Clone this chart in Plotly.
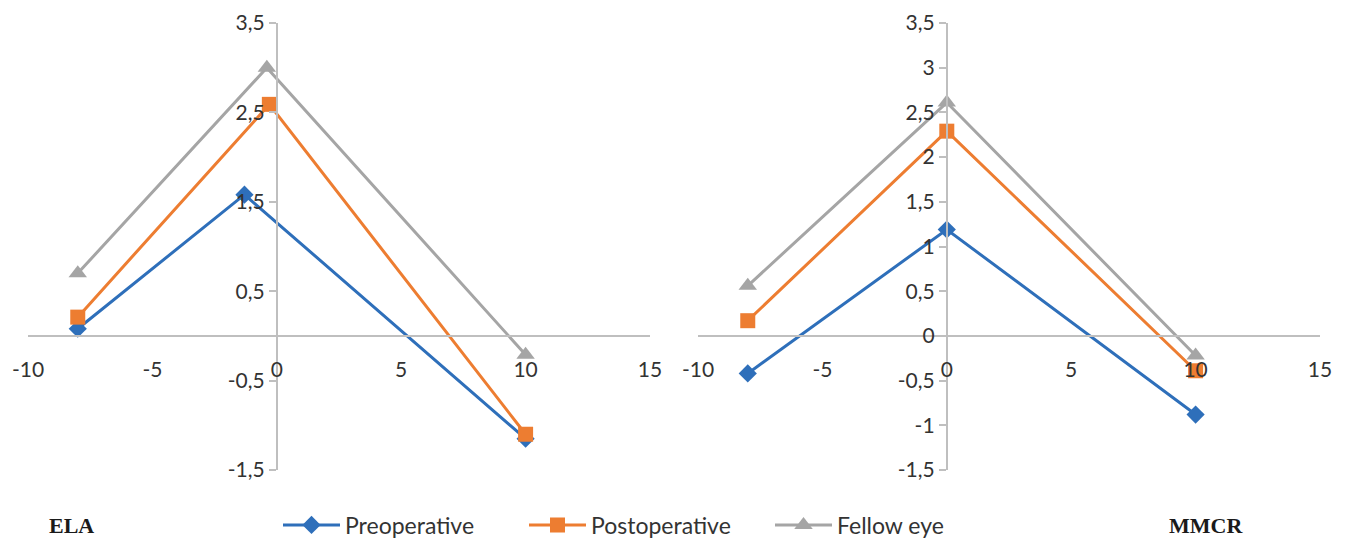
import plotly.graph_objects as go

x_ela_pre = [-8, -1.3, 10]
y_ela_pre = [0.08, 1.58, -1.15]
x_ela_post = [-8, -0.3, 10]
y_ela_post = [0.21, 2.59, -1.1]
x_ela_fel = [-8, -0.4, 10]
y_ela_fel = [0.7, 3.0, -0.21]

x_mm = [-8, 0, 10]
y_mm_pre = [-0.42, 1.19, -0.88]
y_mm_post = [0.17, 2.29, -0.39]
y_mm_fel = [0.56, 2.61, -0.22]

series_names = ["Preoperative", "Postoperative", "Fellow eye"]
x_tickvals = [-10, -5, 0, 5, 10, 15]
x_ticktext = ["-10", "-5", "0", "5", "10", "15"]
y1_tickvals = [-1.5, -0.5, 0.5, 1.5, 2.5, 3.5]
y1_ticktext = ["-1,5", "-0,5", "0,5", "1,5", "2,5", "3,5"]
y2_tickvals = [-1.5, -1, -0.5, 0, 0.5, 1, 1.5, 2, 2.5, 3, 3.5]
y2_ticktext = ["-1,5", "-1", "-0,5", "0", "0,5", "1", "1,5", "2", "2,5", "3", "3,5"]

colors = ["#2E6FBA", "#ED7D31", "#A5A5A5"]
symbols = ["diamond", "square", "triangle-up"]
msizes = [14, 15, 16]

fig = go.Figure()

ela = [(x_ela_pre, y_ela_pre), (x_ela_post, y_ela_post), (x_ela_fel, y_ela_fel)]
mm = [(x_mm, y_mm_pre), (x_mm, y_mm_post), (x_mm, y_mm_fel)]

for i, (xs, ys) in enumerate(ela):
    fig.add_trace(go.Scatter(x=xs, y=ys, mode="lines+markers", name=series_names[i],
                             line=dict(color=colors[i], width=3),
                             marker=dict(symbol=symbols[i], size=msizes[i], color=colors[i]),
                             xaxis="x", yaxis="y", cliponaxis=False, showlegend=True))
for i, (xs, ys) in enumerate(mm):
    fig.add_trace(go.Scatter(x=xs, y=ys, mode="lines+markers", name=series_names[i],
                             line=dict(color=colors[i], width=3),
                             marker=dict(symbol=symbols[i], size=msizes[i], color=colors[i]),
                             xaxis="x2", yaxis="y2", cliponaxis=False, showlegend=False))

W, H = 1348, 542
OFF = 8  # page body margin offset

def px_x(p):
    return (p - OFF) / W

def px_y(p):
    return (H - (p - OFF)) / H

ydom = [px_y(470), px_y(23)]
xdom1 = [px_x(28), px_x(650)]
xdom2 = [px_x(698), px_x(1320)]
xrange_ = [-10, 15]
yrange_ = [-1.5, 3.5]

def xpos(dom):
    return dom[0] + (0 - xrange_[0]) / (xrange_[1] - xrange_[0]) * (dom[1] - dom[0])

ypos = ydom[0] + (0 - yrange_[0]) / (yrange_[1] - yrange_[0]) * (ydom[1] - ydom[0])

axis_color = "#BFBFBF"
tick_font = dict(family="Lato", size=21, color="#333333")

common_x = dict(range=xrange_, showgrid=False, zeroline=False, showline=True,
                linecolor=axis_color, linewidth=2, ticks="outside", ticklen=0,
                tickmode="array", tickvals=x_tickvals, ticktext=x_ticktext,
                tickfont=tick_font, ticklabelstandoff=15, ticklabeloverflow="allow",
                anchor="free", position=ypos, automargin=False)
common_y = dict(range=yrange_, showgrid=False, zeroline=False, showline=True,
                linecolor=axis_color, linewidth=2, ticks="outside", ticklen=7,
                tickcolor=axis_color, tickwidth=2, tickfont=tick_font,
                ticklabeloverflow="allow",
                anchor="free", tickmode="array", automargin=False)
cross_y = dict(range=yrange_, showgrid=False, zeroline=False, showline=False,
               ticks="inside", ticklen=7, tickcolor=axis_color, tickwidth=2,
               showticklabels=False, anchor="free", tickmode="array", automargin=False)

fig.update_layout(
    width=W, height=H,
    margin=dict(l=0, r=0, t=0, b=0, autoexpand=False),
    paper_bgcolor="white", plot_bgcolor="white",
    xaxis=dict(domain=xdom1, **common_x),
    xaxis2=dict(domain=xdom2, **common_x),
    yaxis=dict(domain=ydom, position=xpos(xdom1), tickvals=y1_tickvals,
               ticktext=y1_ticktext, **common_y),
    yaxis2=dict(domain=ydom, position=xpos(xdom2), tickvals=y2_tickvals,
                ticktext=y2_ticktext, **common_y),
    yaxis3=dict(domain=ydom, position=xpos(xdom1), overlaying="y",
                tickvals=y1_tickvals, **cross_y),
    yaxis4=dict(domain=ydom, position=xpos(xdom2), overlaying="y2",
                tickvals=y2_tickvals, **cross_y),
    legend=dict(orientation="h", x=px_x(278), xanchor="left", y=px_y(525),
                yanchor="middle", font=dict(family="Lato", size=23, color="#333333"),
                itemwidth=57, entrywidth=174, bgcolor="rgba(0,0,0,0)"),
    annotations=[
        dict(text="<b>ELA</b>", x=px_x(47), y=px_y(525), xref="paper", yref="paper",
             xanchor="left", yanchor="middle", showarrow=False,
             font=dict(family="Liberation Serif", size=22, color="#1a1a1a")),
        dict(text="<b>MMCR</b>", x=px_x(1167), y=px_y(525), xref="paper", yref="paper",
             xanchor="left", yanchor="middle", showarrow=False,
             font=dict(family="Liberation Serif", size=22, color="#1a1a1a")),
    ],
)

fig.write_html("out.html")
